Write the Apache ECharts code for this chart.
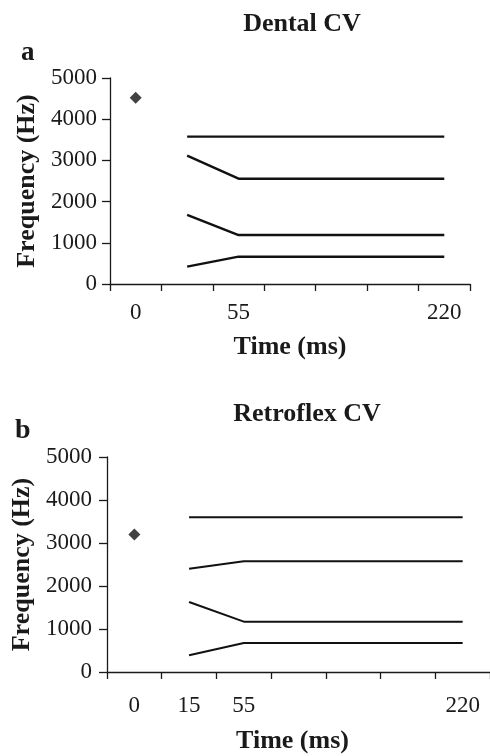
<!DOCTYPE html>
<html><head><meta charset="utf-8">
<script src="https://cdn.jsdelivr.net/npm/echarts@6/dist/echarts.min.js"></script>
<style>html,body{margin:0;padding:0;background:#fff}#c{width:490px;height:756px}</style>
</head><body><div id="c"></div>
<script>
// Panel a: Dental CV
const catsA = ['0', '', '55', '', '', '', '220'];
const burstA = [4520, null, null, null, null, null, null];
const f1A = [null, 420, 663, 663, 663, 663, 663];
const f2A = [null, 1675, 1189, 1189, 1189, 1189, 1189];
const f3A = [null, 3114, 2556, 2556, 2556, 2556, 2556];
const f4A = [null, 3576, 3576, 3576, 3576, 3576, 3576];
// Panel b: Retroflex CV
const catsB = ['0', '15', '55', '', '', '', '220'];
const burstB = [3200, null, null, null, null, null, null];
const f1B = [null, 388, 674, 674, 674, 674, 674];
const f2B = [null, 1628, 1171, 1171, 1171, 1171, 1171];
const f3B = [null, 2403, 2574, 2574, 2574, 2574, 2574];
const f4B = [null, 3597, 3597, 3597, 3597, 3597, 3597];
const yTicks = [0, 1000, 2000, 3000, 4000, 5000];

const FONT = '"Liberation Serif", "Times New Roman", serif';
const ink = '#1a1a1a';
function xAxis(cats, gi, margin, nameGap, shift) {
  return {
    type: 'category', gridIndex: gi, data: cats, boundaryGap: true,
    name: 'Time (ms)', nameLocation: 'middle', nameGap: nameGap,
    nameTextStyle: {fontFamily: FONT, fontWeight: 'bold', fontSize: 26, color: ink, padding: [0, shift, 0, 0]},
    axisLine: {lineStyle: {color: ink, width: 1.3}},
    axisTick: {show: true, length: 7, interval: 0, alignWithLabel: false, lineStyle: {color: ink, width: 1.3}},
    axisLabel: {interval: 0, margin: margin, fontFamily: FONT, fontSize: 23, color: ink},
    splitLine: {show: false}
  };
}
function yAxis(gi, nameGap, margin) {
  return {
    type: 'value', gridIndex: gi, min: yTicks[0], max: yTicks[yTicks.length - 1], interval: 1000,
    name: 'Frequency (Hz)', nameLocation: 'middle', nameGap: nameGap,
    nameTextStyle: {fontFamily: FONT, fontWeight: 'bold', fontSize: 26, color: ink},
    axisLine: {show: true, lineStyle: {color: ink, width: 1.3}},
    axisTick: {show: true, length: 8, lineStyle: {color: ink, width: 1.3}},
    axisLabel: {margin: margin, fontFamily: FONT, fontSize: 23, color: ink, formatter: v => String(v)},
    splitLine: {show: false}
  };
}
function lineS(data, xi, w) {
  return {type: 'line', xAxisIndex: xi, yAxisIndex: xi, data: data, showSymbol: false, symbol: 'none',
    lineStyle: {color: '#111', width: w}, connectNulls: false, silent: true, animation: false};
}
function burst(data, xi) {
  return {type: 'scatter', xAxisIndex: xi, yAxisIndex: xi, data: data, symbol: 'diamond', symbolSize: 12,
    itemStyle: {color: '#111'}, silent: true, animation: false};
}
const chart = echarts.init(document.getElementById('c'));
chart.setOption({
  animation: false,
  title: [
    {text: 'Dental CV', left: 297, top: 6, textAlign: 'center', textStyle: {fontFamily: FONT, fontWeight: 'bold', fontSize: 26, color: ink}},
    {text: 'a', left: 16, top: 35, textStyle: {fontFamily: FONT, fontWeight: 'bold', fontSize: 27, color: ink}},
    {text: 'Retroflex CV', left: 302, top: 396, textAlign: 'center', textStyle: {fontFamily: FONT, fontWeight: 'bold', fontSize: 26, color: ink}},
    {text: 'b', left: 10, top: 412, textStyle: {fontFamily: FONT, fontWeight: 'bold', fontSize: 28, color: ink}}
  ],
  grid: [
    {left: 110, right: 20, top: 78, bottom: 472, containLabel: false},
    {left: 107, right: 0, top: 457, bottom: 84, containLabel: false}
  ],
  xAxis: [xAxis(catsA, 0, 17, 50, 0), xAxis(catsB, 1, 22, 56, 12)],
  yAxis: [yAxis(0, 64, 13), yAxis(1, 69, 15)],
  series: [
    burst(burstA, 0), lineS(f1A, 0, 2.4), lineS(f2A, 0, 2.4), lineS(f3A, 0, 2.4), lineS(f4A, 0, 2.4),
    burst(burstB, 1), lineS(f1B, 1, 2), lineS(f2B, 1, 2), lineS(f3B, 1, 2), lineS(f4B, 1, 2)
  ]
});
</script></body></html>
